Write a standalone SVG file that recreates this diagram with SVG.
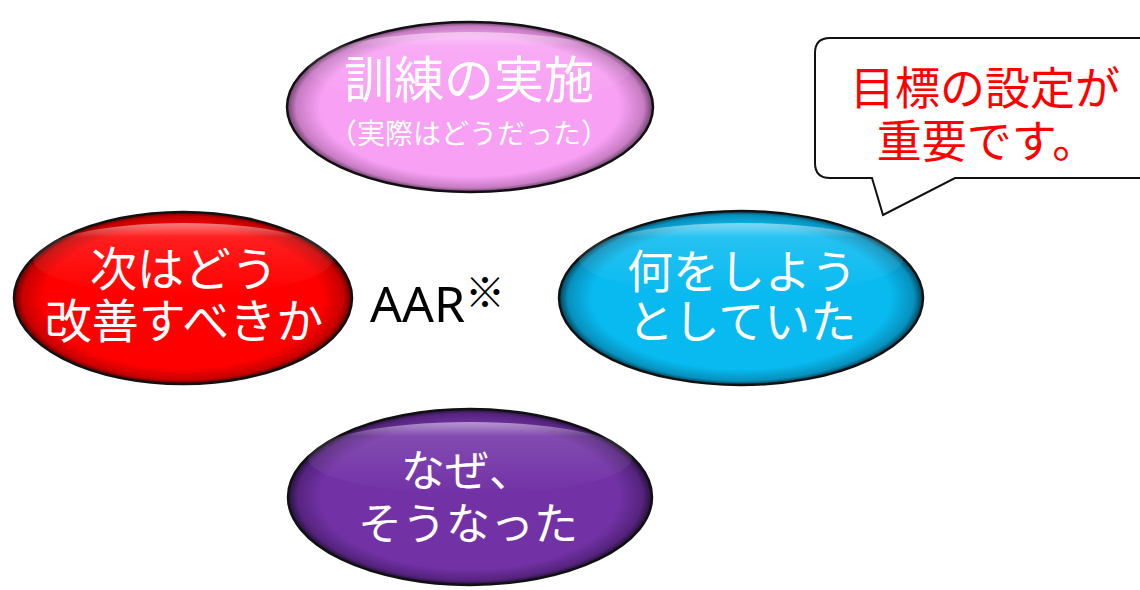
<svg xmlns="http://www.w3.org/2000/svg" width="1140" height="590" viewBox="0 0 1140 590">
<style>
.t{font-family:"Noto Sans CJK JP","Noto Sans",sans-serif;fill:#fff;text-anchor:middle}
.edge{stroke:#111;stroke-width:2.5}
.hl{fill:url(#hl)}
</style>
<defs>
<radialGradient id="gPink" cx="50%" cy="50%" r="50%"><stop offset="0.82" stop-color="#F8A0F4"/><stop offset="0.95" stop-color="#C77CC3"/><stop offset="1" stop-color="#6a3f68"/></radialGradient>
<radialGradient id="gRed" cx="50%" cy="50%" r="50%"><stop offset="0.82" stop-color="#FF0000"/><stop offset="0.95" stop-color="#C80000"/><stop offset="1" stop-color="#5a0000"/></radialGradient>
<radialGradient id="gCyan" cx="50%" cy="50%" r="50%"><stop offset="0.82" stop-color="#08BAF0"/><stop offset="0.95" stop-color="#0791BE"/><stop offset="1" stop-color="#033f55"/></radialGradient>
<radialGradient id="gPurple" cx="50%" cy="50%" r="50%"><stop offset="0.82" stop-color="#7232A6"/><stop offset="0.95" stop-color="#55237D"/><stop offset="1" stop-color="#24103a"/></radialGradient>
<linearGradient id="hl" x1="0" y1="0" x2="0" y2="1"><stop offset="0" stop-color="#fff" stop-opacity="0.5"/><stop offset="0.2" stop-color="#fff" stop-opacity="0.12"/><stop offset="1" stop-color="#fff" stop-opacity="0"/></linearGradient>
</defs>
<rect width="1140" height="590" fill="#fff"/>
<g id="connectors"></g>
<g id="node-pink">
<ellipse class="edge" cx="470" cy="107" rx="183" ry="85" fill="url(#gPink)"/>
<ellipse class="hl" cx="470" cy="68" rx="162" ry="36"/>
<text class="t" x="469" y="98" font-size="50">訓練の実施</text>
<text class="t" x="469" y="144" font-size="28">（実際はどうだった）</text>
</g>
<g id="node-red">
<ellipse class="edge" cx="183" cy="298" rx="169" ry="86" fill="url(#gRed)"/>
<ellipse class="hl" cx="183" cy="259" rx="150" ry="36"/>
<text class="t" font-size="47"><tspan x="184" y="286">次はどう</tspan><tspan x="184" y="338">改善すべきか</tspan></text>
</g>
<g id="node-aar">
<text x="370" y="322" font-family="'Noto Sans','DejaVu Sans',sans-serif" font-size="50" fill="#000">AAR<tspan font-family="'Noto Sans CJK JP',sans-serif" font-size="40" dy="-15">※</tspan></text>
</g>
<g id="node-cyan">
<ellipse class="edge" cx="741" cy="298" rx="182" ry="87" fill="url(#gCyan)"/>
<ellipse class="hl" cx="741" cy="259" rx="162" ry="36"/>
<text class="t" font-size="46"><tspan x="742" y="288">何をしよう</tspan><tspan x="742" y="338">としていた</tspan></text>
</g>
<g id="node-purple">
<ellipse class="edge" cx="470" cy="497" rx="182" ry="88" fill="url(#gPurple)"/>
<ellipse class="hl" cx="470" cy="458" rx="162" ry="36"/>
<text class="t" font-size="44"><tspan x="467" y="487">なぜ、</tspan><tspan x="468" y="540">そうなった</tspan></text>
</g>
<g id="node-callout">
<path d="M830,38 H1150 V178 H955 L883,215 L872,178 H830 Q815,178 815,163 V53 Q815,38 830,38 Z" fill="#fff" stroke="#111" stroke-width="2"/>
<text font-family="'Noto Sans CJK JP',sans-serif" font-size="45" fill="#FF0000" text-anchor="middle"><tspan x="985" y="105">目標の設定が</tspan><tspan x="987" y="158">重要です。</tspan></text>
</g>
</svg>
